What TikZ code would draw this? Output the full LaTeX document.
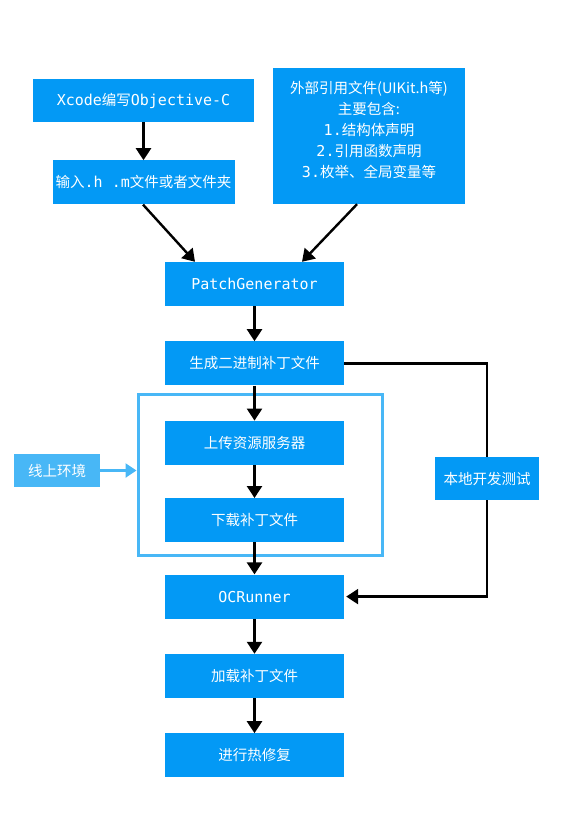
\documentclass[tikz,border=0pt]{standalone}
\usepackage{fontspec}
\setmainfont{Noto Sans CJK SC}
\newfontfamily\monofont{DejaVu Sans Mono}
\usetikzlibrary{arrows.meta,positioning}
\definecolor{ocblue}{RGB}{3,153,245}
\definecolor{ocsky}{RGB}{72,183,246}
\newcommand{\code}[1]{{\monofont\fontsize{15}{21}\selectfont #1}}

\begin{document}
\begin{tikzpicture}[x=1pt, y=-1pt,
    node distance=35pt,
    box/.style={fill=ocblue, text=white, minimum width=179pt, minimum height=44pt, inner sep=0pt, align=center, font=\fontsize{14.5}{21}\selectfont},
    arr/.style={-{Triangle[length=12pt,width=15pt]}, line width=2.4pt, color=black},
    skyarr/.style={-{Triangle[length=11pt,width=14pt]}, line width=2.4pt, color=ocsky}
  ]
  \useasboundingbox (0,0) rectangle (563,833);

  % 1. sources
  \node[box, minimum width=221pt, minimum height=43pt] (xcode) at (143.5,100.5) {\code{Xcode}编写\code{Objective-C}};
  \node[box, minimum width=182pt, below=38pt of xcode] (input) {输入\code{.h .m}文件或者文件夹};
  \node[box, minimum width=192pt, minimum height=136pt, text width=185pt] (ext) at (369,136) {
    外部引用文件(UIKit.h等)\\
    主要包含:\\
    \code{1.}结构体声明\\
    \code{2.}引用函数声明\\
    \code{3.}枚举、全局变量等\\[-7pt]\mbox{}
  };

  % 2. main column
  \node[box] (patch) at (254.5,284) {\code{PatchGenerator}};
  \node[box, below=of patch] (gen) {生成二进制补丁文件};
  \node[box, below=of gen] (upload) {上传资源服务器};
  \node[box, below=33pt of upload] (download) {下载补丁文件};
  \node[box, below=32pt of download] (runner) {\code{OCRunner}};
  \node[box, below=of runner] (load) {加载补丁文件};
  \node[box, below=of load] (fix) {进行热修复};

  % 3. environments
  \node[draw=ocsky, line width=3pt, minimum width=244pt, minimum height=161pt] (online) at (260,474.5) {};
  \node[box, fill=ocsky, minimum width=86pt, minimum height=33pt] (env) at (57,470.5) {线上环境};
  \node[box, minimum width=104pt, minimum height=43pt] (local) at (487,478.5) {本地开发测试};

  \draw[arr] (xcode) -- (input);
  \draw[arr] (input.south -| 143,0) -- (patch.north -| 195,0);
  \draw[arr] (ext.south -| 357,0) -- (patch.north -| 302,0);
  \draw[arr] (patch) -- (gen);
  \draw[arr] (gen) -- (upload);
  \draw[arr] (upload) -- (download);
  \draw[arr] (download) -- (runner);
  \draw[arr] (runner) -- (load);
  \draw[arr] (load) -- (fix);
  \draw[skyarr] (env.east) -- (env.east -| online.west);
  \draw[line width=2.4pt] (gen.east) -| (local.north);
  \draw[arr] (local.south) |- ([xshift=2pt]runner.east);
\end{tikzpicture}
\end{document}
